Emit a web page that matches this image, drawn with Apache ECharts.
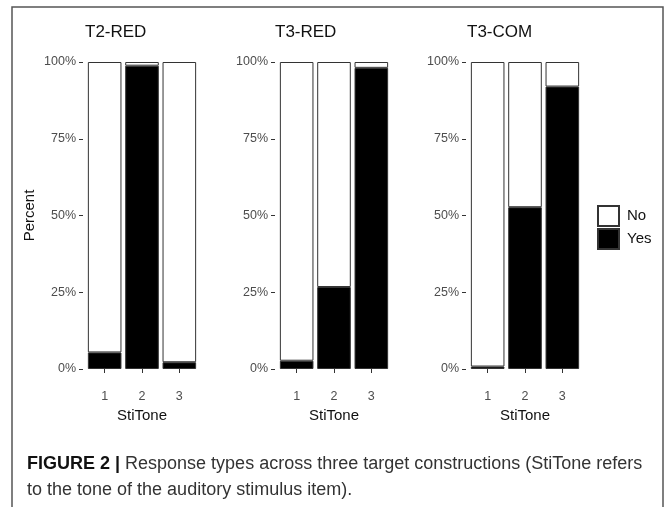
<!DOCTYPE html>
<html>
<head>
<meta charset="utf-8">
<script src="https://cdn.jsdelivr.net/npm/echarts@6/dist/echarts.min.js"></script>
<style>
    html, body { margin: 0; padding: 0; background: #fff; }
    #chart { width: 668px; height: 507px; }
</style>
</head>
<body>
<div id="chart"></div>
<script>
// panel titles and x categories
var panelTitles = ['T2-RED', 'T3-RED', 'T3-COM'];
var stiTone = ['1', '2', '3'];
var yTicks = [0, 25, 50, 75, 100];

// percent of responses per StiTone
var yesT2Red = [5.4, 98.8, 2.2];
var noT2Red = [94.6, 1.2, 97.8];
var yesT3Red = [2.7, 26.7, 98.1];
var noT3Red = [97.3, 73.3, 1.9];
var yesT3Com = [0.8, 52.7, 92.0];
var noT3Com = [99.2, 47.3, 8.0];

(function () {
    var chart = echarts.init(document.getElementById('chart'));
    var font = 'Liberation Sans, Arial, sans-serif';
    var yesData = [yesT2Red, yesT3Red, yesT3Com];
    var noData = [noT2Red, noT3Red, noT3Com];
    var panelLeft = [86, 278, 469];
    var titleLeft = [85, 275, 467];
    var panelWidth = 112;

    var grids = [], xAxes = [], yAxes = [], titles = [], series = [];
    for (var i = 0; i < 3; i++) {
        grids.push({ left: panelLeft[i], top: 62, width: panelWidth, height: 307 });
        titles.push({
            text: panelTitles[i],
            left: titleLeft[i],
            top: 24,
            padding: 0,
            textStyle: { fontFamily: font, fontSize: 17, fontWeight: 'normal', color: '#111' }
        });
        xAxes.push({
            type: 'category',
            gridIndex: i,
            data: stiTone,
            offset: 15,
            name: 'StiTone',
            nameLocation: 'middle',
            nameGap: 20,
            nameTextStyle: { fontFamily: font, fontSize: 15, color: '#111' },
            axisLine: { show: false },
            axisTick: { show: true, alignWithLabel: true, length: 4, lineStyle: { color: '#333' } },
            axisLabel: { fontFamily: font, fontSize: 12.5, color: '#4d4d4d', margin: 6 },
            splitLine: { show: false }
        });
        yAxes.push({
            type: 'value',
            gridIndex: i,
            min: yTicks[0],
            max: yTicks[yTicks.length - 1],
            interval: 25,
            offset: 3,
            name: i === 0 ? 'Percent' : '',
            nameLocation: 'middle',
            nameGap: 46,
            nameTextStyle: { fontFamily: font, fontSize: 15, color: '#111' },
            axisLine: { show: false },
            axisTick: { show: true, length: 4, lineStyle: { color: '#333' } },
            axisLabel: { fontFamily: font, fontSize: 12.5, color: '#4d4d4d', margin: 7, formatter: '{value}%' },
            splitLine: { show: false }
        });
        series.push({
            name: 'Yes',
            type: 'bar',
            stack: 'p' + i,
            xAxisIndex: i,
            yAxisIndex: i,
            barCategoryGap: '10%',
            data: yesData[i],
            itemStyle: { color: '#000', borderColor: '#333', borderWidth: 1 }
        });
        series.push({
            name: 'No',
            type: 'bar',
            stack: 'p' + i,
            xAxisIndex: i,
            yAxisIndex: i,
            barCategoryGap: '10%',
            data: noData[i],
            itemStyle: { color: '#fff', borderColor: '#333', borderWidth: 1 }
        });
    }

    var option = {
        backgroundColor: '#fff',
        animation: false,
        title: titles,
        legend: {
            orient: 'vertical',
            left: 597,
            top: 205,
            padding: 0,
            icon: 'rect',
            itemWidth: 21,
            itemHeight: 20,
            itemGap: 1,
            data: ['No', 'Yes'],
            textStyle: { fontFamily: font, fontSize: 15, color: '#111', padding: [0, 0, 0, 3] }
        },
        grid: grids,
        xAxis: xAxes,
        yAxis: yAxes,
        series: series,
        graphic: [
            {
                type: 'rect',
                shape: { x: 12, y: 7, width: 651, height: 520 },
                style: { fill: 'none', stroke: '#555', lineWidth: 1.5 },
                silent: true
            },
            {
                type: 'text',
                left: 27,
                top: 451,
                style: {
                    text: '{b|FIGURE 2 |} Response types across three target constructions (StiTone refers\nto the tone of the auditory stimulus item).',
                    fontFamily: font,
                    fontSize: 18,
                    lineHeight: 26,
                    fill: '#333',
                    rich: {
                        b: { fontFamily: font, fontSize: 18, fontWeight: 'bold', fill: '#111' }
                    }
                }
            }
        ]
    };
    chart.setOption(option);
})();
</script>
</body>
</html>
